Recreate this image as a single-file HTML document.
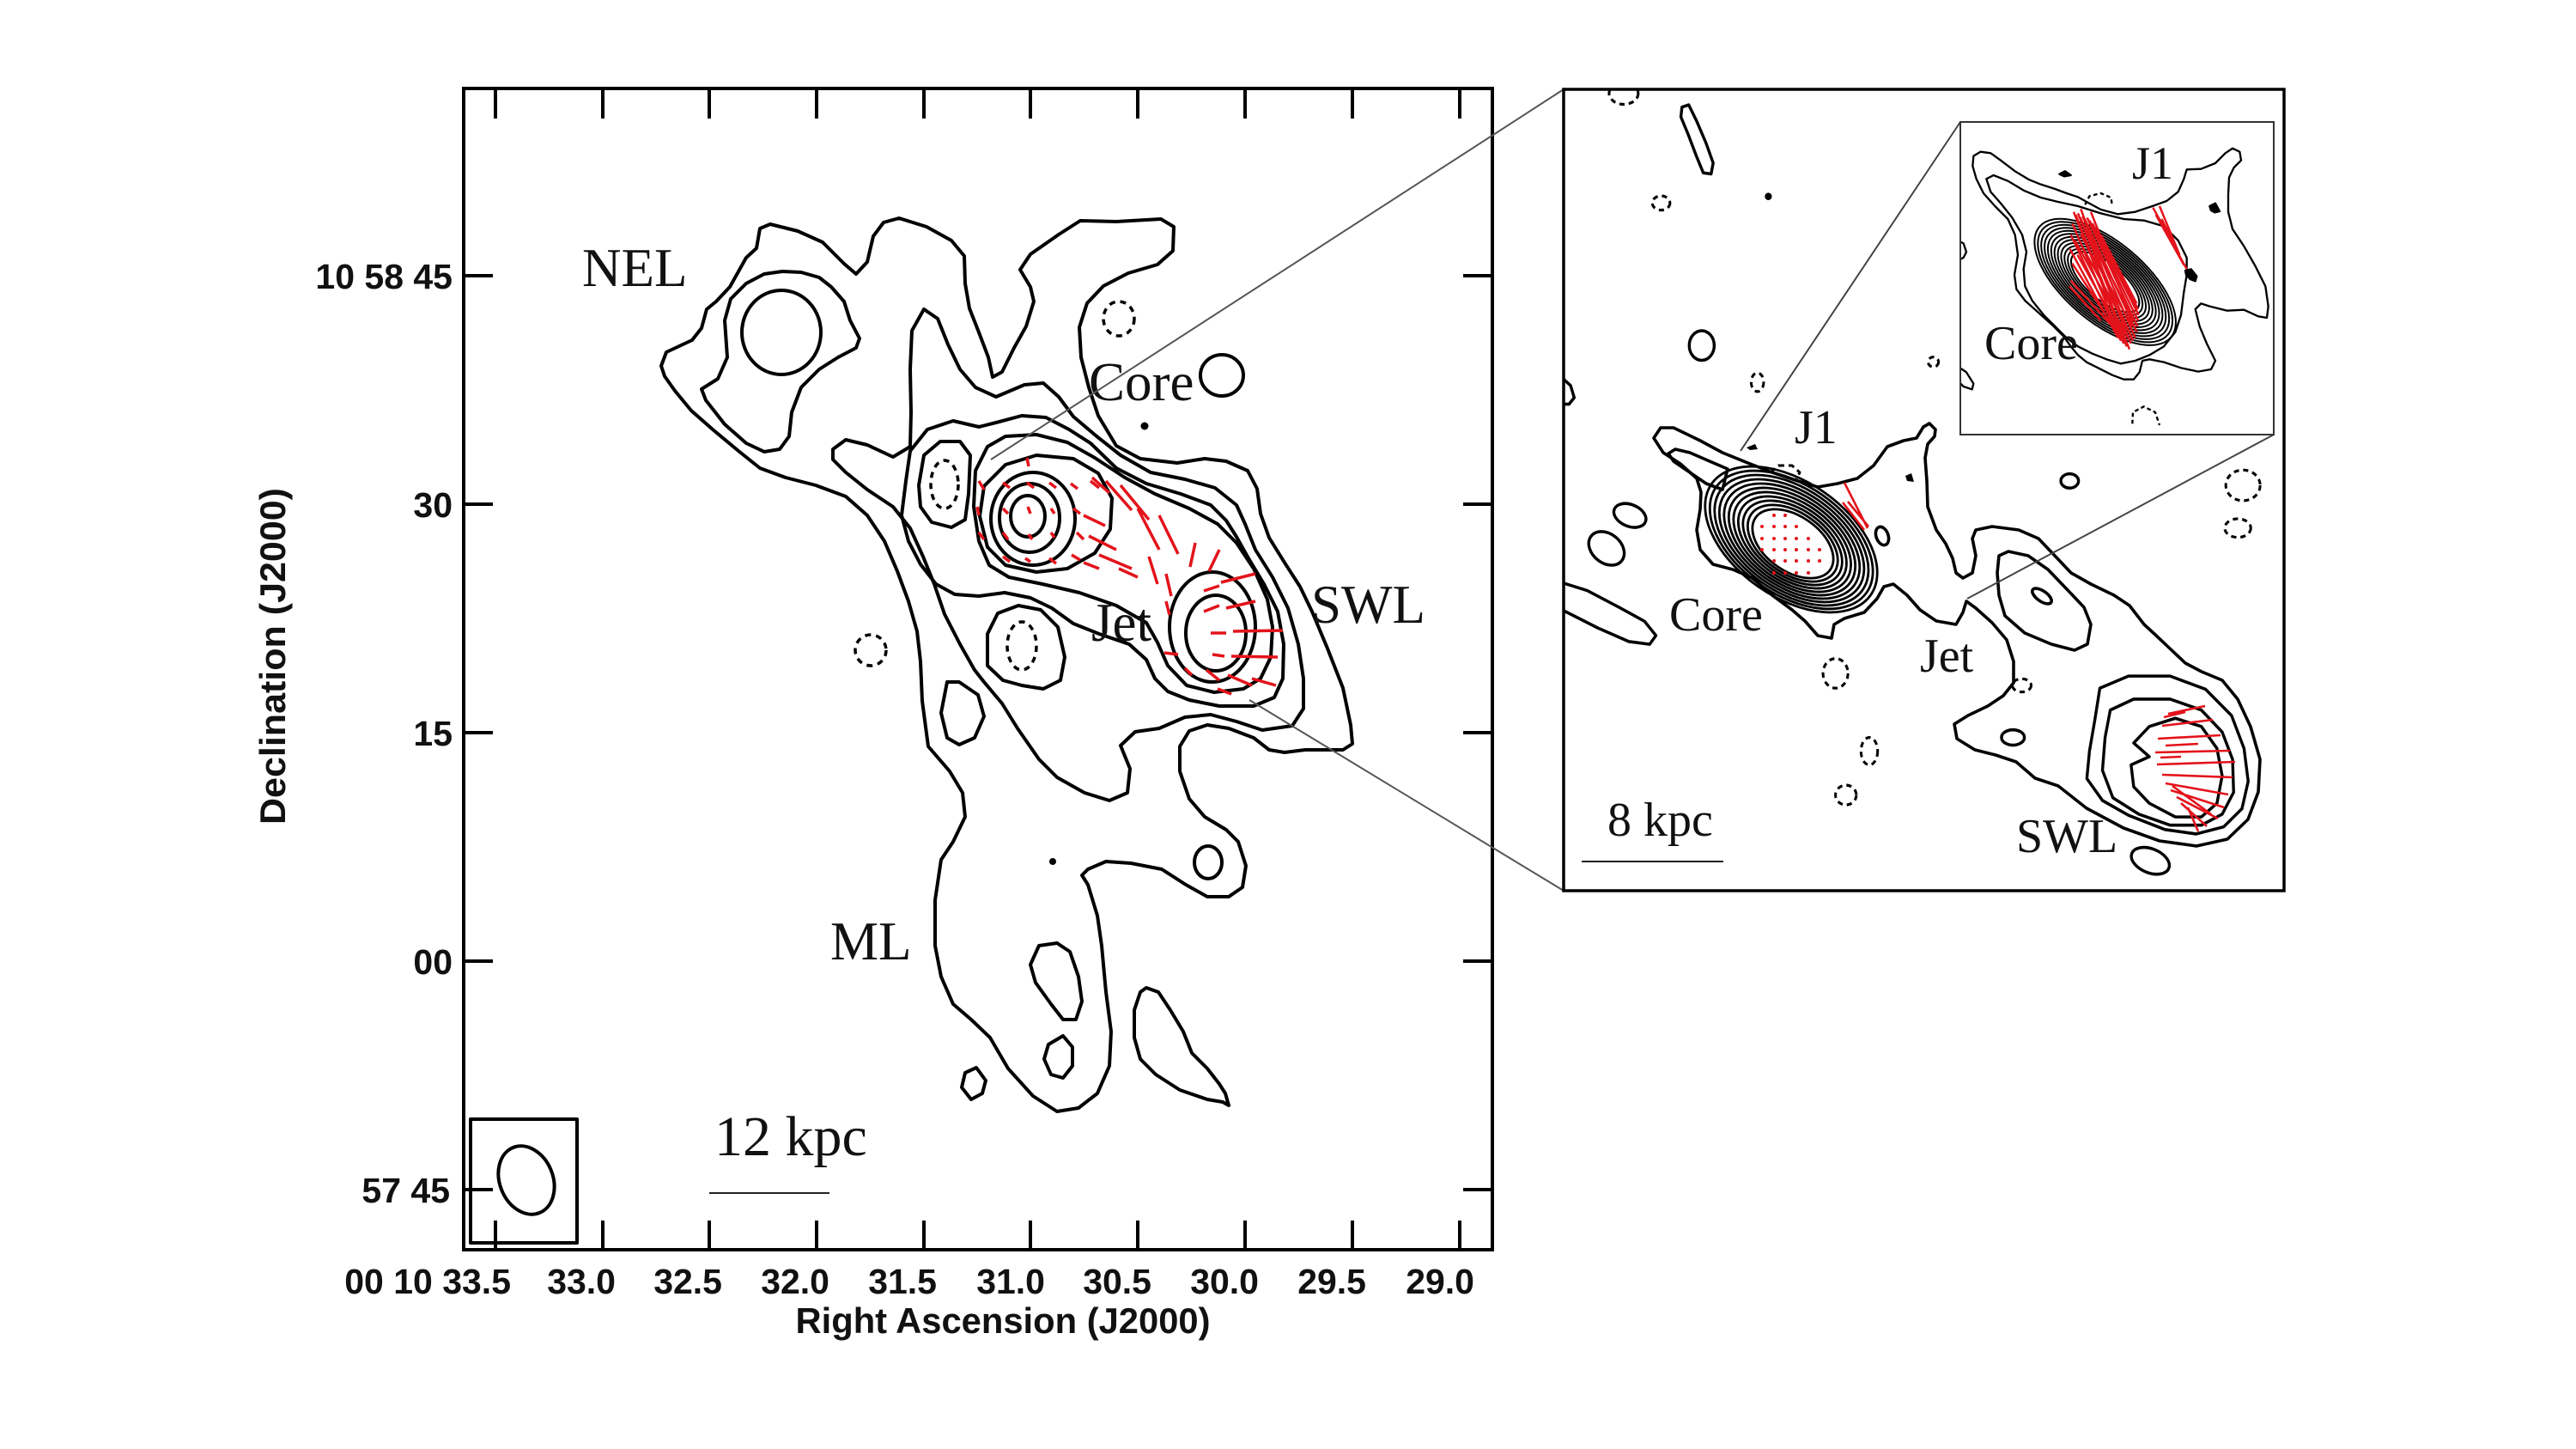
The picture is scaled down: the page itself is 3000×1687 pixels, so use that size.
<!DOCTYPE html>
<html><head><meta charset="utf-8"><style>
html,body{margin:0;padding:0;background:#fff;overflow:hidden}
svg{display:block}
.tk{font-family:"Liberation Sans",Arial,sans-serif;font-weight:bold;font-size:41px;fill:#111}
.ti{font-family:"Liberation Sans",Arial,sans-serif;font-weight:bold;font-size:42px;fill:#111}
.lb{font-family:"Liberation Serif","Times New Roman",serif;font-size:63px;fill:#111}
.lr{font-family:"Liberation Serif","Times New Roman",serif;font-size:56px;fill:#111}
.c{fill:none;stroke:#000;stroke-width:4;stroke-linejoin:round;stroke-linecap:round}
.d{fill:none;stroke:#000;stroke-width:3.5;stroke-dasharray:7 6}
.r{stroke:#e3131b;stroke-width:3.5;stroke-linecap:butt;fill:none}
</style></head><body>
<svg width="3000" height="1687" viewBox="0 0 3000 1687" xmlns="http://www.w3.org/2000/svg">
<rect width="3000" height="1687" fill="#fff"/>
<defs>
<clipPath id="rp"><rect x="1821" y="104" width="839" height="933"/></clipPath>
<clipPath id="ip"><rect x="2283" y="142" width="365" height="364"/></clipPath>
</defs>

<!-- ============ LEFT PANEL ============ -->
<g class="c">
<path d="M770,426 L776,410 806,396 817,382 823,360 834,351 850,334 869,300 881,289 885,266 897,261 929,269 958,282 983,307 997,319 1010,305 1017,275 1029,259 1047,254 1079,264 1108,280 1123,298 1124,330 1129,359 1140,387 1151,416 1156,439 1167,433 1181,405 1195,380 1204,351 1200,334 1188,314 1200,296 1233,273 1258,257 1300,258 1352,255 1367,264 1366,292 1348,308 1314,318 1285,333 1266,353 1257,381 1259,416 1268,451 1279,484 1300,519 1328,534 1371,539 1403,534 1428,537 1453,548 1464,569 1468,598 1478,626 1496,655 1514,683 1528,712 1546,755 1564,801 1573,844 1575,866 1564,873 1520,873 1496,876 1478,873 1460,859 1431,848 1406,844 1385,851 1374,869 1374,898 1385,930 1403,951 1428,966 1442,980 1451,1008 1447,1033 1431,1044 1406,1044 1381,1030 1353,1012 1317,1005 1288,1003 1267,1012 1260,1019 1267,1030 1278,1066 1283,1101 1288,1155 1294,1201 1292,1241 1278,1273 1256,1290 1231,1294 1203,1276 1174,1244 1153,1208 1131,1187 1110,1169 1096,1137 1089,1101 1089,1048 1096,1001 1110,980 1124,951 1121,923 1106,898 1081,869 1074,816 1072,770 1068,735 1058,700 1045,665 1030,630 1010,600 985,578 950,565 915,556 885,545 860,525 830,500 805,478 786,455 774,438 Z"/>
<path d="M817,453 L836,441 847,416 844,373 851,348 869,330 890,319 911,316 933,317 954,323 968,334 983,351 990,373 1001,394 997,405 976,416 954,430 933,451 922,480 919,508 908,523 890,526 869,516 844,494 822,466 Z"/>
<ellipse cx="910" cy="387" rx="46" ry="49"/>
<path d="M970,523 L985,512 1010,518 1040,532 1060,520 1061,480 1060,430 1062,385 1076,360 1092,371 1104,401 1118,430 1136,451 1160,462 1193,448 1215,446 1233,462 1250,485 1276,507 1305,530 1340,550 1380,558 1415,568 1440,588 1450,610 1462,640 1482,672 1500,708 1512,750 1518,790 1518,825 1505,845 1470,850 1440,840 1410,832 1380,835 1350,848 1322,852 1305,868 1316,895 1313,923 1292,932 1263,923 1231,905 1210,884 1185,848 1167,819 1146,794 1135,780 1118,750 1100,715 1088,680 1075,648 1060,615 1040,590 1010,570 985,550 970,535 Z"/>
<path d="M1050,600 L1055,560 1060,525 1080,500 1110,490 1140,497 1160,492 1190,484 1218,486 1245,500 1270,516 1300,545 1335,563 1375,575 1410,588 1428,606 1440,625 1454,650 1472,680 1488,712 1495,750 1494,790 1484,812 1460,822 1420,822 1385,815 1360,805 1345,790 1335,768 1315,750 1280,738 1250,726 1225,708 1200,696 1170,690 1140,694 1112,692 1090,680 1072,657 1058,630 Z"/>
<path d="M1134,590 L1136,548 1150,520 1171,508 1207,506 1243,515 1275,533 1310,556 1345,575 1385,592 1418,610 1440,632 1460,662 1476,698 1482,730 1480,765 1468,790 1448,802 1414,806 1382,798 1360,775 1348,748 1335,725 1300,705 1257,690 1214,680 1175,672 1152,658 1140,630 Z"/>
<path d="M1146,566 L1171,541 1207,530 1250,534 1279,551 1295,580 1293,616 1275,644 1243,662 1207,666 1171,658 1150,637 1141,601 Z"/>
<ellipse cx="1203" cy="604" rx="49" ry="54"/>
<ellipse cx="1199" cy="603" rx="35" ry="40"/>
<ellipse cx="1197" cy="601" rx="20" ry="24"/>
<ellipse cx="1412" cy="730" rx="50" ry="64"/>
<ellipse cx="1416" cy="737" rx="35" ry="44"/>
<path d="M1070,565 L1076,530 1095,514 1118,514 1130,530 1128,575 1124,605 1108,614 1085,608 1072,590 Z"/>
<path d="M1150,775 L1150,738 1162,714 1186,705 1212,710 1232,730 1240,765 1235,792 1215,802 1190,798 1168,792 Z"/>
<ellipse cx="1423" cy="437" rx="25" ry="24"/>
<ellipse cx="1407" cy="1004" rx="16" ry="19"/>
<path d="M1103,794 L1117,794 1139,809 1146,834 1135,859 1117,867 1103,859 1096,830 Z"/>
<path d="M1210,1101 L1231,1098 1246,1108 1256,1137 1260,1166 1253,1187 1238,1187 1224,1169 1206,1144 1200,1123 Z"/>
<path d="M1221,1216 L1238,1206 1249,1219 1249,1241 1238,1255 1224,1251 1216,1233 Z"/>
<path d="M1124,1249 L1137,1243 1148,1258 1144,1273 1131,1280 1120,1266 Z"/>
<path d="M1335,1150 L1349,1155 1363,1176 1378,1201 1388,1226 1406,1244 1420,1262 1427,1273 1431,1287 1424,1283 1406,1280 1374,1269 1346,1251 1328,1233 1321,1208 1321,1176 1328,1155 Z"/>
<rect x="548" y="1303" width="124" height="144"/>
<ellipse cx="613" cy="1374" rx="31" ry="41" transform="rotate(-22 613 1374)"/>
</g>
<g class="d">
<ellipse cx="1100" cy="564" rx="16" ry="28"/>
<ellipse cx="1190" cy="752" rx="17" ry="28"/>
<ellipse cx="1303" cy="371" rx="18" ry="20"/>
<ellipse cx="1014" cy="757" rx="18" ry="18"/>
</g>
<circle cx="1333" cy="496" r="4.5" fill="#000"/>
<circle cx="1226" cy="1003" r="4" fill="#000"/>

<g class="r">
<path d="M1196,533L1198,543M1140,560L1146,570M1168,562L1176,568M1196,562L1204,568M1222,562L1230,568M1247,563L1255,569M1270,560L1280,568M1138,590L1140,600M1168,592L1174,598M1197,590L1200,598M1224,592L1228,598M1250,592L1258,598M1140,620L1146,628M1168,620L1174,628M1198,622L1202,628M1224,620L1228,626M1254,620L1262,628M1168,648L1176,654M1194,650L1200,654M1222,650L1230,656M1248,646L1258,652"/>
<path d="M1272,556L1292,574M1288,560L1318,594M1305,565L1338,605M1325,592L1350,640M1350,600L1372,645M1262,600L1287,612M1268,624L1300,640M1280,646L1318,662M1303,662L1325,672M1338,648L1348,680M1392,632L1386,660M1420,640L1408,665M1358,668L1364,694M1358,700L1362,716M1356,760L1372,762M1262,655L1280,662"/>
<path d="M1402,688L1420,682M1422,678L1462,668M1402,712L1420,705M1428,708L1462,700M1410,737L1428,737M1436,735L1494,734M1412,762L1426,764M1434,764L1488,765M1405,780L1420,792M1430,786L1458,798M1458,790L1486,798M1418,802L1434,808M1380,778L1388,786"/>
</g>

<rect x="540" y="103" width="1198" height="1352" fill="none" stroke="#000" stroke-width="4"/>
<g stroke="#000" stroke-width="4">
<path d="M577,103V138M702,103V138M826,103V138M951,103V138M1076,103V138M1200,103V138M1325,103V138M1450,103V138M1575,103V138M1700,103V138"/>
<path d="M577,1455V1421M702,1455V1421M826,1455V1421M951,1455V1421M1076,1455V1421M1200,1455V1421M1325,1455V1421M1450,1455V1421M1575,1455V1421M1700,1455V1421"/>
<path d="M540,321H574M540,587H574M540,853H574M540,1119H574M540,1385H574"/>
<path d="M1738,321H1704M1738,587H1704M1738,853H1704M1738,1119H1704M1738,1385H1704"/>
</g>
<g class="tk" text-anchor="end">
<text x="527" y="336">10 58 45</text>
<text x="527" y="602">30</text>
<text x="527" y="868">15</text>
<text x="527" y="1134">00</text>
<text x="524" y="1400">57 45</text>
<text x="595" y="1506">00 10 33.5</text>
<text x="717" y="1506">33.0</text>
<text x="841" y="1506">32.5</text>
<text x="966" y="1506">32.0</text>
<text x="1091" y="1506">31.5</text>
<text x="1217" y="1506">31.0</text>
<text x="1341" y="1506">30.5</text>
<text x="1466" y="1506">30.0</text>
<text x="1591" y="1506">29.5</text>
<text x="1717" y="1506">29.0</text>
</g>
<text class="ti" x="1168" y="1552" text-anchor="middle" textLength="483" lengthAdjust="spacingAndGlyphs">Right Ascension (J2000)</text>
<text class="ti" transform="translate(332,764) rotate(-90)" text-anchor="middle" textLength="392" lengthAdjust="spacingAndGlyphs">Declination (J2000)</text>

<text class="lb" x="678" y="333">NEL</text>
<text class="lb" x="1268" y="466">Core</text>
<text class="lb" x="1271" y="746">Jet</text>
<text class="lb" x="1527" y="725">SWL</text>
<text class="lb" x="967" y="1117">ML</text>
<text class="lb" x="832" y="1345" style="font-size:66px">12 kpc</text>
<line x1="826" y1="1389" x2="966" y2="1389" stroke="#222" stroke-width="2"/>

<g stroke="#555" stroke-width="2">
<line x1="1154" y1="535" x2="1821" y2="104"/>
<line x1="1455" y1="815" x2="1821" y2="1037"/>
</g>

<!-- ============ RIGHT PANEL ============ -->
<g clip-path="url(#rp)">
<g transform="translate(1800,80) scale(0.6061,0.6382)" fill="none" stroke="#000" stroke-width="5.6" stroke-linejoin="round">
<path d="M1065,1130 L1120,1108 1200,1108 1268,1132 1318,1180 1342,1240 1350,1300 1338,1350 1303,1383 1250,1396 1190,1388 1120,1362 1070,1335 1040,1295 1045,1245 1055,1190 Z"/>
<path d="M1085,1170 L1130,1150 1200,1150 1260,1170 1300,1210 1320,1260 1322,1320 1300,1360 1260,1380 1200,1380 1140,1360 1090,1330 1070,1280 1075,1220 Z"/>
<path d="M1130,1230 L1160,1200 1210,1185 1260,1200 1290,1240 1300,1290 1290,1340 1260,1365 1210,1365 1160,1340 1130,1310 1125,1270 1160,1255 Z"/>
<path d="M262,70 L275,66 290,95 308,135 322,172 318,192 303,190 290,160 274,120 260,88 Z"/>
<ellipse cx="300" cy="505" rx="24" ry="27"/>
<path d="M33,565 L48,578 55,600 45,612 33,612"/>
<ellipse cx="1007" cy="752" rx="17" ry="13"/>
<ellipse cx="162" cy="815" rx="32" ry="20" transform="rotate(20 162 815)"/>
<ellipse cx="117" cy="875" rx="37" ry="27" transform="rotate(35 117 875)"/>
<path d="M33,938 L80,952 140,982 190,1008 212,1034 200,1050 160,1045 100,1020 50,996 33,988"/>
<ellipse cx="898" cy="1220" rx="22" ry="14"/>
<ellipse cx="1162" cy="1445" rx="38" ry="22" transform="rotate(20 1162 1445)"/>
<circle cx="428" cy="233" r="4" fill="#000"/>
<g stroke-dasharray="10 8" stroke-width="5">
<ellipse cx="150" cy="45" rx="28" ry="20"/>
<ellipse cx="222" cy="245" rx="17" ry="13"/>
<ellipse cx="407" cy="572" rx="12" ry="17"/>
<ellipse cx="745" cy="535" rx="10" ry="9"/>
<ellipse cx="1340" cy="760" rx="33" ry="28"/>
<ellipse cx="1330" cy="838" rx="25" ry="17"/>
<ellipse cx="557" cy="1103" rx="24" ry="27"/>
<ellipse cx="622" cy="1245" rx="16" ry="25"/>
<ellipse cx="577" cy="1325" rx="20" ry="18"/>
<ellipse cx="915" cy="1125" rx="18" ry="12"/>
</g>
</g>
<!-- right panel main contours in original coords -->
<g fill="none" stroke="#000" stroke-width="3.6" stroke-linejoin="round">
<path d="M1926,510 L1934,498 1949,498 1980,513 2006,527 2033,538 2064,550 2094,560 2117,567 2140,563 2163,557 2182,542 2198,520 2217,513 2232,510 2240,497 2247,493 2254,500 2253,508 2245,517 2242,533 2244,560 2245,590 2255,617 2266,633 2274,650 2278,667 2286,673 2297,667 2301,647 2297,627 2301,617 2320,613 2351,617 2374,627 2393,647 2412,667 2435,680 2462,693 2480,705 2497,727 2509,738 2527,755 2545,772 2564,782 2588,792 2606,814 2621,846 2632,884 2630,922 2618,954 2594,977 2558,985 2515,979 2473,964 2430,941 2397,915 2370,906 2348,887 2324,879 2300,873 2279,860 2276,843 2292,833 2315,822 2333,810 2345,795 2345,770 2337,745 2320,725 2301,708 2290,700 2286,713 2278,727 2255,723 2236,710 2221,693 2205,680 2194,683 2186,697 2171,713 2148,720 2136,727 2133,743 2117,740 2102,723 2087,710 2064,693 2041,673 2018,663 1995,657 1980,640 1976,617 1980,593 1981,573 1976,557 1957,540 1937,527 Z"/>
<path d="M1943,528 L1951,523 1968,527 1991,537 2012,546 2006,570 1987,563 1968,550 1949,537 Z"/>
<path d="M2328,647 L2339,642 2362,647 2385,663 2408,687 2427,707 2435,727 2431,750 2416,757 2389,750 2358,737 2335,717 2328,693 2326,667 Z"/>
<ellipse cx="2378" cy="694" rx="13" ry="6" transform="rotate(35 2378 694)"/>
<ellipse cx="2192" cy="624" rx="7" ry="11" transform="rotate(-20 2192 624)"/>
<path d="M2062,550 L2071,542 2087,542 2096,550 2092,558" stroke-dasharray="7 5" stroke-width="3"/>
</g>
<path d="M2219,554 L2226,551 2229,561 2221,560 Z" fill="#000"/>
<path d="M2034,521 L2044,517 2047,523 2038,524 Z" fill="#000"/>
<!-- core rings right panel -->
<g fill="none" stroke="#000" stroke-width="2.8">
<ellipse cx="2086" cy="628" rx="113" ry="67" transform="rotate(35 2086 628)"/>
<ellipse cx="2086.2" cy="628.5" rx="107" ry="63.5" transform="rotate(35 2086.2 628.5)"/>
<ellipse cx="2086.4" cy="629" rx="101" ry="60" transform="rotate(35 2086.4 629)"/>
<ellipse cx="2086.6" cy="629.5" rx="95" ry="56.5" transform="rotate(35 2086.6 629.5)"/>
<ellipse cx="2086.8" cy="630" rx="89" ry="53" transform="rotate(35 2086.8 630)"/>
<ellipse cx="2087" cy="630.5" rx="83" ry="49.5" transform="rotate(35 2087 630.5)"/>
<ellipse cx="2087.2" cy="631" rx="77" ry="46" transform="rotate(35 2087.2 631)"/>
<ellipse cx="2087.4" cy="631.5" rx="71" ry="42.5" transform="rotate(35 2087.4 631.5)"/>
<ellipse cx="2087.6" cy="632" rx="65" ry="39" transform="rotate(35 2087.6 632)"/>
<ellipse cx="2087.8" cy="632.5" rx="59" ry="35.5" transform="rotate(35 2087.8 632.5)"/>
<ellipse cx="2088" cy="633" rx="53" ry="32" transform="rotate(35 2088 633)"/>
</g>
<g fill="#e3131b">
<circle cx="2066" cy="600" r="2"/><circle cx="2079" cy="600" r="2"/>
<circle cx="2052" cy="613" r="2"/><circle cx="2066" cy="613" r="2"/><circle cx="2079" cy="613" r="2"/><circle cx="2092" cy="613" r="2"/>
<circle cx="2052" cy="627" r="2"/><circle cx="2066" cy="627" r="2"/><circle cx="2079" cy="627" r="2"/><circle cx="2092" cy="627" r="2"/><circle cx="2106" cy="627" r="2"/>
<circle cx="2052" cy="640" r="2"/><circle cx="2066" cy="640" r="2"/><circle cx="2079" cy="640" r="2"/><circle cx="2092" cy="640" r="2"/><circle cx="2106" cy="640" r="2"/><circle cx="2119" cy="640" r="2"/>
<circle cx="2066" cy="653" r="2"/><circle cx="2079" cy="653" r="2"/><circle cx="2092" cy="653" r="2"/><circle cx="2106" cy="653" r="2"/><circle cx="2119" cy="653" r="2"/>
<circle cx="2066" cy="667" r="2"/><circle cx="2079" cy="667" r="2"/><circle cx="2092" cy="667" r="2"/><circle cx="2106" cy="667" r="2"/>
</g>
<g class="r" style="stroke-width:2.6">
<path d="M2148,562L2175,615M2146,585L2171,617M2152,584L2176,613"/>
<path d="M2525,831L2568,822M2518,845L2577,838M2513,860L2586,856M2510,876L2597,874M2512,890L2603,887M2518,902L2600,905M2522,912L2595,925M2528,920L2590,940M2535,928L2583,953M2540,935L2570,962M2548,940L2560,968M2530,915L2575,948M2520,835L2545,829M2522,868L2560,866M2516,882L2540,881"/>
</g>
</g>
<rect x="1821" y="104" width="839" height="933" fill="none" stroke="#000" stroke-width="3.5"/>
<text class="lr" x="2090" y="516">J1</text>
<text class="lr" x="1944" y="734">Core</text>
<text class="lr" x="2236" y="782">Jet</text>
<text class="lr" x="2348" y="992">SWL</text>
<text class="lr" x="1872" y="973">8 kpc</text>
<line x1="1842" y1="1003" x2="2007" y2="1003" stroke="#222" stroke-width="2"/>

<g stroke="#444" stroke-width="2">
<line x1="2027" y1="525" x2="2283" y2="142"/>
<line x1="2291" y1="697" x2="2648" y2="506"/>
</g>

<!-- ============ INSET ============ -->
<rect x="2283" y="142" width="365" height="364" fill="#fff"/>
<g clip-path="url(#ip)">
<g transform="translate(2280,140) scale(0.33333)" fill="none" stroke="#000" stroke-width="7" stroke-linejoin="round">
<path d="M55,125 L80,110 115,115 150,140 200,178 250,208 290,224 340,240 380,255 420,268 450,285 500,312 560,328 620,320 680,300 730,282 770,250 790,205 800,172 850,170 900,150 935,115 960,98 985,110 990,140 965,165 948,200 945,260 945,320 960,380 1000,440 1040,510 1075,580 1085,650 1080,690 1050,685 1000,662 940,665 880,650 850,640 830,660 845,720 870,780 900,840 885,870 840,878 780,865 720,845 670,835 645,840 635,880 615,905 580,905 540,890 490,865 450,845 420,820 395,790 370,755 330,715 280,670 235,630 205,590 198,540 210,470 200,400 175,345 130,300 90,255 65,205 52,160 Z"/>
<path d="M100,205 L125,192 175,212 230,245 290,270 350,285 420,300 500,325 580,345 650,350 720,370 770,420 800,480 800,540 790,600 780,680 760,740 720,790 670,820 620,840 570,850 520,835 470,815 420,790 380,760 340,720 300,680 260,630 235,580 230,520 240,460 225,400 190,340 150,290 115,250 Z"/>
<g transform="rotate(40 515 565)" stroke-width="6">
<ellipse cx="515" cy="565" rx="300" ry="140"/>
<ellipse cx="515" cy="565" rx="286" ry="133"/>
<ellipse cx="515" cy="565" rx="272" ry="126"/>
<ellipse cx="515" cy="565" rx="258" ry="119"/>
<ellipse cx="515" cy="565" rx="244" ry="112"/>
<ellipse cx="515" cy="565" rx="230" ry="105"/>
<ellipse cx="515" cy="565" rx="216" ry="98"/>
<ellipse cx="515" cy="565" rx="202" ry="91"/>
<ellipse cx="515" cy="565" rx="188" ry="84"/>
<ellipse cx="515" cy="565" rx="174" ry="77"/>
<ellipse cx="515" cy="565" rx="160" ry="70"/>
<ellipse cx="515" cy="565" rx="146" ry="63"/>
</g>
<path d="M795,525 L815,520 835,545 830,562 812,555 798,540 Z" fill="#000"/>
<path d="M880,300 L900,290 915,318 898,322 885,315 Z" fill="#000"/>
<path d="M355,188 L375,178 395,192 372,196 Z" fill="#000"/>
<path d="M0,420 L20,430 30,460 20,480 0,490"/>
<path d="M0,860 L30,880 55,920 50,940 20,930 0,910"/>
<g stroke-dasharray="14 10">
<path d="M445,295 L460,265 500,255 535,270 540,300"/>
<path d="M610,1060 L612,1020 650,1000 690,1020 705,1065"/>
</g>
<g stroke="#e3131b" stroke-width="7.5">
<path d="M405,320L590,790M412,330L600,800M420,325L605,780M428,340L612,770M436,335L620,760M444,345L625,740M452,340L628,720M460,350L630,700M470,360L632,680M480,380L630,660M400,360L580,780M395,400L570,770M392,450L560,760M400,500L555,740M395,560L540,720M410,420L595,760M430,400L610,720M450,380L615,700M418,470L585,770M440,450L600,740M390,580L500,700M500,400L625,640M465,320L560,560M430,310L520,560"/>
<path d="M682,305L800,520M692,330L790,505M705,300L775,470M712,345L768,455"/>
</g>
</g>
</g>
<rect x="2283" y="142" width="365" height="364" fill="none" stroke="#333" stroke-width="2"/>
<text class="lr" x="2483" y="208" style="font-size:54px">J1</text>
<text class="lr" x="2311" y="418">Core</text>
</svg>
</body></html>
